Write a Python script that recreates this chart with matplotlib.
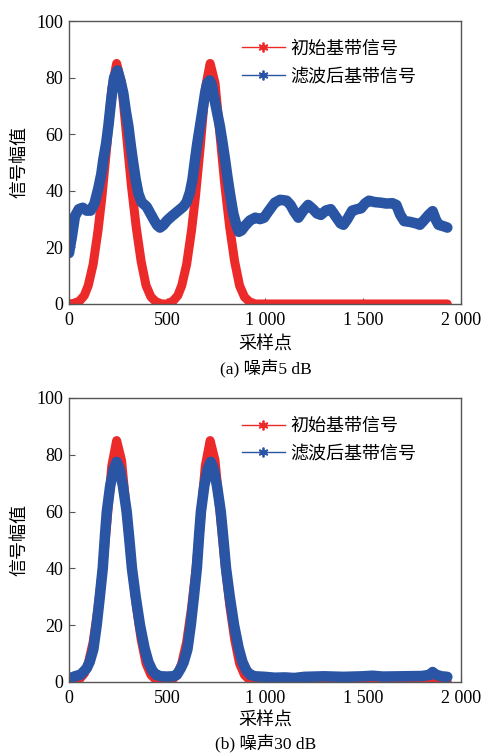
import matplotlib
matplotlib.use("Agg")
import matplotlib.pyplot as plt
from matplotlib.lines import Line2D

plt.rcParams['font.family'] = ['Liberation Serif', 'Noto Sans CJK SC']
plt.rcParams['axes.unicode_minus'] = False

# 初始基带信号 (两幅图相同)
red_x = [0, 23, 53, 78, 98, 123, 148, 168, 193, 218, 243, 268, 293, 318, 343, 368,
         393, 418, 443, 473, 500, 530, 555, 575, 600, 625, 645, 670, 695, 720, 745,
         770, 795, 820, 845, 870, 895, 920, 950, 1200, 1500, 1800, 1930]
red_y = [0, 0.2, 1, 3, 6.5, 14, 26, 38, 56, 76, 85, 78, 60, 42, 27, 15,
         6.5, 2.5, 0.8, 0, 0, 1, 3, 6.5, 14, 26, 38, 56, 76, 85, 78,
         60, 42, 27, 15, 6.5, 2.5, 0.8, 0, 0, 0, 0, 0]

# 滤波后基带信号, 噪声5 dB
blue_a_x = [0, 15, 30, 50, 70, 90, 110, 130, 150, 165, 175, 190, 201, 215, 230, 247,
            262, 277, 290, 303, 315, 325, 340, 354, 370, 396, 415, 435, 450, 464, 480,
            500, 524, 550, 583, 600, 617, 630, 643, 655, 668, 680, 694, 706, 718, 728,
            736, 753, 770, 783, 796, 808, 821, 838, 856, 866, 880, 900, 923, 950, 975,
            995, 1020, 1050, 1077, 1110, 1130, 1150, 1170, 1195, 1220, 1245, 1265, 1285,
            1310, 1335, 1360, 1385, 1400, 1420, 1445, 1470, 1490, 1510, 1530, 1560, 1590,
            1620, 1650, 1670, 1690, 1710, 1740, 1770, 1790, 1810, 1835, 1855, 1870, 1885,
            1910, 1930]
blue_a_y = [18, 24, 31, 33.5, 34, 33, 33, 35.5, 41, 46, 51, 57, 63, 72, 80, 82.5,
            79, 74.4, 68, 62.7, 56, 51, 44, 39, 36, 34.4, 32, 29.5, 27.8, 27, 27.8,
            29.5, 31, 32.5, 34.4, 36, 39.5, 44, 51, 57, 62.7, 68, 74.4, 78, 79, 77.5,
            74.4, 68.5, 62.7, 57, 51, 45, 39, 32, 27.3, 25.5, 26, 27.8, 29.5, 30.5, 30,
            30.5, 33, 35.8, 36.8, 36.5, 35, 32.5, 30.5, 33, 35, 33.5, 32, 31.5,
            33, 33.5, 31, 28.5, 28, 30, 33, 33.5, 33.8, 35.5, 36.5, 36, 35.8,
            35.5, 35.6, 35, 31.5, 29.3, 29, 28.5, 28, 29.5, 31.5, 32.8, 30, 28,
            27.5, 27]

# 滤波后基带信号, 噪声30 dB
blue_b_x = [0, 30, 60, 90, 105, 124, 141, 157, 172, 184, 193, 210, 228, 243, 258, 275,
            294, 308, 321, 340, 362, 385, 405, 425, 445, 470, 500, 530, 550, 570, 585,
            604, 621, 637, 652, 664, 673, 690, 708, 723, 738, 755, 774, 788, 801, 820,
            842, 865, 885, 905, 925, 950, 1000, 1050, 1100, 1150, 1200, 1300, 1400, 1500,
            1550, 1600, 1700, 1800, 1840, 1855, 1870, 1900, 1930]
blue_b_y = [1.2, 2, 2.6, 4.8, 7, 11.5, 20, 30, 40, 52, 60, 69, 75, 77.5, 75, 69,
            60, 50, 40, 30, 20, 12, 7, 4, 2.5, 2, 1.9, 2, 2.5, 4.8, 7,
            11.5, 20, 30, 40, 52, 60, 69, 75, 77.5, 75, 69, 60, 50, 40, 30,
            20, 12, 7, 4, 2.5, 2, 1.8, 1.5, 1.6, 1.4, 1.8, 2, 1.8, 2,
            2.2, 1.9, 2, 2.1, 2.5, 3.5, 2.6, 2, 1.8]

x_ticks = [0, 500, 1000, 1500, 2000]
x_ticklabels = ['0', '500', '1 000', '1 500', '2 000']
y_ticks = [0, 20, 40, 60, 80, 100]
legend_labels = ['初始基带信号', '滤波后基带信号']
captions = ['(a) 噪声5 dB', '(b) 噪声30 dB']

RED = '#ec2a2a'
BLUE = '#2a55a5'
SPINE = '#555555'

fig = plt.figure(figsize=(4.82, 7.53), dpi=100)
ax_a = fig.add_axes([0.1432, 0.5963, 0.8133, 0.3758])
ax_b = fig.add_axes([0.1432, 0.0943, 0.8133, 0.3772])


def draw_panel(ax, blue_x, blue_y, caption, cap_y, xlab_y):
    ax.plot(red_x, red_y, color=RED, lw=6.5, solid_joinstyle='round', solid_capstyle='round')
    ax.plot(blue_x, blue_y, color=BLUE, lw=7.6, solid_joinstyle='round', solid_capstyle='round')
    ax.set_xlim(0, 2000)
    ax.set_ylim(0, 100)
    ax.set_xticks(x_ticks)
    ax.set_xticklabels(x_ticklabels)
    ax.set_yticks(y_ticks)
    ax.tick_params(direction='in', length=4, width=0.8, color=SPINE, labelsize=13)
    ax.tick_params(axis='x', pad=6)
    ax.tick_params(axis='y', pad=4)
    for s in ax.spines.values():
        s.set_color(SPINE)
        s.set_linewidth(1.0)
    ax.set_ylabel('信号幅值', fontsize=13, labelpad=6)
    # 图例用星号标记 (类似 MATLAB 的 '*')
    handles = [Line2D([], [], color=RED, lw=1.0, marker=(6, 2, 0), markersize=7, markeredgewidth=1.3),
               Line2D([], [], color=BLUE, lw=1.0, marker=(6, 2, 0), markersize=7, markeredgewidth=1.3)]
    ax.legend(handles, legend_labels, loc='upper left', bbox_to_anchor=(0.44, 0.93),
              frameon=False, fontsize=13, handlelength=2.4, handletextpad=0.3,
              borderaxespad=0, borderpad=0, labelspacing=0.6)
    fig.text(0.551, xlab_y, '采样点', ha='center', va='center', fontsize=13)
    fig.text(0.551, cap_y, caption, ha='center', va='center', fontsize=12.5)


draw_panel(ax_a, blue_a_x, blue_a_y, captions[0], 1 - 368 / 753, 1 - 345 / 753)
draw_panel(ax_b, blue_b_x, blue_b_y, captions[1], 1 - 743 / 753, 1 - 721 / 753)

fig.savefig('out.png', dpi=100)
